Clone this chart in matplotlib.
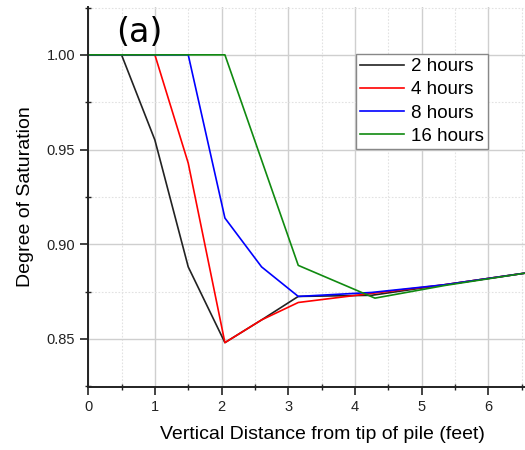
import matplotlib
matplotlib.use("Agg")
import matplotlib.pyplot as plt
from matplotlib.ticker import MultipleLocator

# Distance from pile tip (feet) and degree of saturation for each time step
distance = [0.0, 0.5, 1.0, 1.5, 2.05, 2.6, 3.15, 4.25, 5.35, 6.55]
sat_2h = [1.0, 1.0, 0.955, 0.888, 0.848, 0.860, 0.8724, 0.873, 0.8786, 0.8847]
sat_4h = [1.0, 1.0, 1.0, 0.9428, 0.848, 0.860, 0.8692, 0.874, 0.8786, 0.8847]
sat_8h = [1.0, 1.0, 1.0, 1.0, 0.9138, 0.888, 0.8724, 0.8745, 0.8786, 0.8847]
distance_16h = [0.0, 0.5, 1.0, 1.5, 2.05, 3.15, 4.3, 5.35, 6.55]
sat_16h = [1.0, 1.0, 1.0, 1.0, 1.0, 0.8888, 0.8715, 0.8782, 0.8847]

labels = ["2 hours", "4 hours", "8 hours", "16 hours"]
colors = ["#222222", "#ff0000", "#0000ff", "#108a10"]

plt.rcParams["font.family"] = ["Liberation Sans", "DejaVu Sans"]

fig = plt.figure(figsize=(5.25, 4.5), dpi=100)
ax = fig.add_axes([0.168, 0.141, 0.832, 0.844])

series = [(distance, sat_2h), (distance, sat_4h), (distance, sat_8h),
          (distance_16h, sat_16h)]
for (xs, ys), lab, col in zip(series, labels, colors):
    ax.plot(xs, ys, color=col, lw=1.2, label=lab)

ax.set_xlim(0, 6.55)
ax.set_ylim(0.8248, 1.0254)
ax.xaxis.set_major_locator(MultipleLocator(1))
ax.xaxis.set_minor_locator(MultipleLocator(0.5))
ax.yaxis.set_major_locator(MultipleLocator(0.05))
ax.yaxis.set_minor_locator(MultipleLocator(0.025))
ax.yaxis.set_major_formatter(plt.FormatStrFormatter("%.2f"))

ax.grid(which="major", color="#cfcfcf", lw=1.0)
ax.grid(which="minor", color="#e2e2e2", lw=0.8, ls=(0, (1.5, 1.5)))
ax.set_axisbelow(True)

for side in ("top", "right"):
    ax.spines[side].set_visible(False)
for side in ("left", "bottom"):
    ax.spines[side].set_linewidth(1.4)
    ax.spines[side].set_color("#222222")

ax.tick_params(which="major", direction="out", length=6, width=1.2,
               labelsize=10.5, colors="#222222")
ax.tick_params(which="minor", direction="inout", length=4, width=1.0,
               colors="#222222")

ax.set_xlabel("Vertical Distance from tip of pile (feet)", fontsize=14,
              labelpad=9, x=0.537)
ax.set_ylabel("Degree of Saturation", fontsize=14, labelpad=9)

ax.text(0.065, 0.932, "(a)", transform=ax.transAxes, fontsize=24,
        family="DejaVu Sans", va="center", ha="left")

leg = ax.legend(loc="upper left", bbox_to_anchor=(0.613, 0.875),
                fontsize=13.5, frameon=True, fancybox=False, framealpha=1,
                edgecolor="#888888", handlelength=2.35, handletextpad=0.38,
                labelspacing=0.33, borderpad=0.2, borderaxespad=0)
leg.get_frame().set_linewidth(1.0)

fig.savefig("out.png", dpi=100)
